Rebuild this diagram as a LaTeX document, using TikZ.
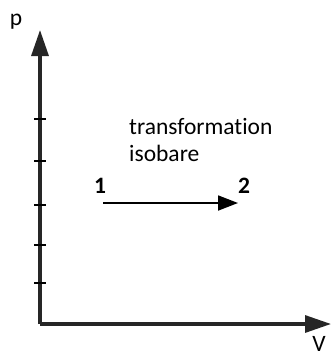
\documentclass[tikz,border=0pt]{standalone}
\usepackage{fontspec}
\setmainfont{Carlito}[Ligatures={NoCommon}]
\usetikzlibrary{arrows.meta}
\begin{document}
\begin{tikzpicture}[x=1pt,y=-1pt,
  axis/.style={line width=3.2pt,draw=black!85,-{Triangle[length=26pt,width=17pt]}},
  tickmark/.style={line width=1.8pt},
  lbl/.style={inner sep=0pt,font=\fontsize{23.5}{27}\selectfont},
  pt/.style={inner sep=0pt,font=\bfseries\fontsize{23.5}{27}\selectfont}]
\useasboundingbox (0,0) rectangle (334,356);
\coordinate (O) at (40,324);
\coordinate (Ptip) at (40,30);
\coordinate (Vtip) at (331,324);
\draw[axis] (O) -- (Ptip);
\draw[axis] (O) -- (Vtip);
\foreach \y in {119,161,205,245,283}
  \draw[tickmark] (34,\y) -- (46,\y);
\node[lbl] (p) at (16,22) {p};
\node[lbl] (v) at (319,344) {V};
\node[lbl,anchor=west,align=left] (t) at (129,140) {transformation\\isobare};
\node[pt] (n1) at (100,186) {1};
\node[pt] (n2) at (244,186) {2};
\coordinate (a1) at (103,203);
\coordinate (a2) at (238,203);
\draw[line width=1.8pt,-{Triangle[length=20pt,width=15pt]}] (a1) -- (a2);
\end{tikzpicture}
\end{document}
